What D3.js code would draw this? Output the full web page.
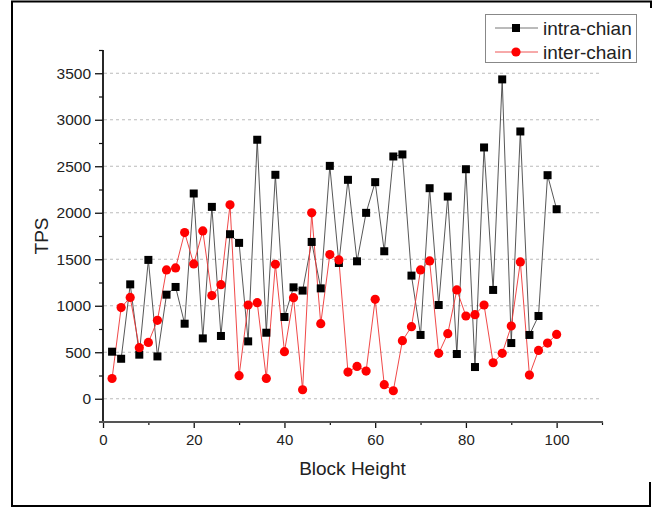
<!DOCTYPE html>
<meta charset="utf-8">
<head>
<style>
  body { margin: 0; background: #fff; }
  text { font-family: "Liberation Sans", Arial, sans-serif; fill: #222; }
  .grid line { stroke: #aaa; stroke-width: 0.8px; stroke-dasharray: 3,3; }
</style>
</head>
<body>
<div id="content"></div>
<script src="https://d3js.org/d3.v7.min.js"></script>
<script>

// block heights 2..100 step 2
var blockHeight = [2,4,6,8,10,12,14,16,18,20,22,24,26,28,30,32,34,36,38,40,
                   42,44,46,48,50,52,54,56,58,60,62,64,66,68,70,72,74,76,78,80,
                   82,84,86,88,90,92,94,96,98,100];

var intraChian = [506,430,1230,474,1493,455,1119,1202,807,2207,649,2063,675,1769,1676,617,2785,710,2408,879,
                  1198,1163,1686,1187,2504,1460,2354,1478,1999,2329,1586,2605,2627,1324,686,2264,1008,2174,481,2468,
                  341,2702,1170,3434,599,2874,686,890,2404,2038];

var interChain = [218,980,1090,549,606,843,1385,1407,1787,1450,1805,1109,1227,2085,248,1008,1033,219,1446,506,
                  1087,97,1999,807,1550,1493,287,348,298,1069,151,86,624,775,1385,1482,488,700,1170,890,
                  904,1008,387,488,782,1471,255,520,599,692];

var yTicks = [0,500,1000,1500,2000,2500,3000,3500];
var xTicks = [0,20,40,60,80,100];
var seriesNames = ["intra-chian", "inter-chain"];

var W = 662, H = 510;
var m = {left: 103, right: 602, top: 50, bottom: 422};

var svg = d3.select("#content").append("svg")
    .attr("width", W).attr("height", H);

// outer frame (broken on the right like the source)
var frame = svg.append("g").attr("stroke", "#000").attr("stroke-width", 2).attr("fill", "none");
frame.append("path").attr("d", "M12,507 L12,1.5 L651,1.5 L651,8");
frame.append("path").attr("d", "M12,506 L650,506 L650,482");

var x = d3.scaleLinear().domain([0, 110]).range([m.left, m.right]);
var y = d3.scaleLinear().domain([-250, 3750]).range([m.bottom, m.top]);

// grid
svg.append("g").attr("class", "grid")
  .selectAll("line").data(yTicks).enter().append("line")
    .attr("x1", m.left + 1).attr("x2", m.right)
    .attr("y1", function(d) { return y(d); })
    .attr("y2", function(d) { return y(d); });

// y axis
var yAxis = svg.append("g").attr("transform", "translate(" + m.left + ",0)")
    .call(d3.axisLeft(y).tickValues(yTicks).tickFormat(d3.format("d")).tickSize(8).tickPadding(4));
yAxis.select(".domain").remove();
yAxis.selectAll(".tick line").attr("stroke", "#111").attr("stroke-width", 1.3);
yAxis.selectAll(".tick text").style("font-size", "15.5px").style("fill", "#222")
    .style("font-family", "'Liberation Sans', Arial, sans-serif");
svg.append("g").attr("transform", "translate(" + m.left + ",0)")
    .call(d3.axisLeft(y).tickValues(d3.range(250, 3800, 500)).tickSize(4).tickFormat(""))
    .call(function(g) { g.select(".domain").remove(); })
    .selectAll(".tick line").attr("stroke", "#111").attr("stroke-width", 1.2);
svg.append("line").attr("x1", m.left).attr("x2", m.left).attr("y1", m.top).attr("y2", m.bottom)
    .attr("stroke", "#111").attr("stroke-width", 1.8);

// x axis
var xAxis = svg.append("g").attr("transform", "translate(0," + m.bottom + ")")
    .call(d3.axisBottom(x).tickValues(xTicks).tickSize(6).tickPadding(6));
xAxis.select(".domain").remove();
xAxis.selectAll(".tick line").attr("stroke", "#111").attr("stroke-width", 1.3);
xAxis.selectAll(".tick text").style("font-size", "15px").style("fill", "#222")
    .style("font-family", "'Liberation Sans', Arial, sans-serif");
svg.append("g").attr("transform", "translate(0," + m.bottom + ")")
    .call(d3.axisBottom(x).tickValues([10,30,50,70,90,110]).tickSize(3).tickFormat(""))
    .call(function(g) { g.select(".domain").remove(); })
    .selectAll(".tick line").attr("stroke", "#111").attr("stroke-width", 1.2);
svg.append("line").attr("x1", m.left - 4).attr("x2", m.right + 1).attr("y1", m.bottom).attr("y2", m.bottom)
    .attr("stroke", "#555").attr("stroke-width", 2.2);

// axis titles
svg.append("text").attr("x", 352.5).attr("y", 475).attr("text-anchor", "middle")
    .style("font-size", "19px").text("Block Height");
svg.append("text").attr("transform", "translate(48,236) rotate(-90)").attr("text-anchor", "middle")
    .style("font-size", "19px").text("TPS");

// series
var line = d3.line().x(function(d) { return x(d[0]); }).y(function(d) { return y(d[1]); });
var intraPts = blockHeight.map(function(b, i) { return [b, intraChian[i]]; });
var interPts = blockHeight.map(function(b, i) { return [b, interChain[i]]; });

svg.append("path").datum(intraPts).attr("d", line)
    .attr("fill", "none").attr("stroke", "#444").attr("stroke-width", 0.9);
svg.append("path").datum(interPts).attr("d", line)
    .attr("fill", "none").attr("stroke", "#e33").attr("stroke-width", 0.9);

svg.append("g").selectAll("rect").data(intraPts).enter().append("rect")
    .attr("x", function(d) { return x(d[0]) - 4; })
    .attr("y", function(d) { return y(d[1]) - 4; })
    .attr("width", 8).attr("height", 8).attr("fill", "#000");

svg.append("g").selectAll("circle").data(interPts).enter().append("circle")
    .attr("cx", function(d) { return x(d[0]); })
    .attr("cy", function(d) { return y(d[1]); })
    .attr("r", 4.6).attr("fill", "#f00");

// legend
var lg = svg.append("g");
lg.append("rect").attr("x", 485.5).attr("y", 14.5).attr("width", 151).attr("height", 48)
    .attr("fill", "#fff").attr("stroke", "#888").attr("stroke-width", 1);
var items = lg.selectAll("g.item").data(seriesNames).enter().append("g")
    .attr("transform", function(d, i) { return "translate(0," + (28 + i * 24) + ")"; });
items.append("line").attr("x1", 495).attr("x2", 538).attr("y1", 0).attr("y2", 0)
    .attr("stroke", function(d, i) { return i ? "#e55" : "#777"; }).attr("stroke-width", 1);
items.each(function(d, i) {
  var g = d3.select(this);
  if (i === 0) g.append("rect").attr("x", 512).attr("y", -4).attr("width", 8).attr("height", 8).attr("fill", "#000");
  else g.append("circle").attr("cx", 516).attr("cy", 0).attr("r", 4.6).attr("fill", "#f00");
});
items.append("text").attr("x", 543).attr("y", 0).attr("dy", "0.35em")
    .style("font-size", "19px").text(function(d) { return d; });

</script>
</body>
</html>
